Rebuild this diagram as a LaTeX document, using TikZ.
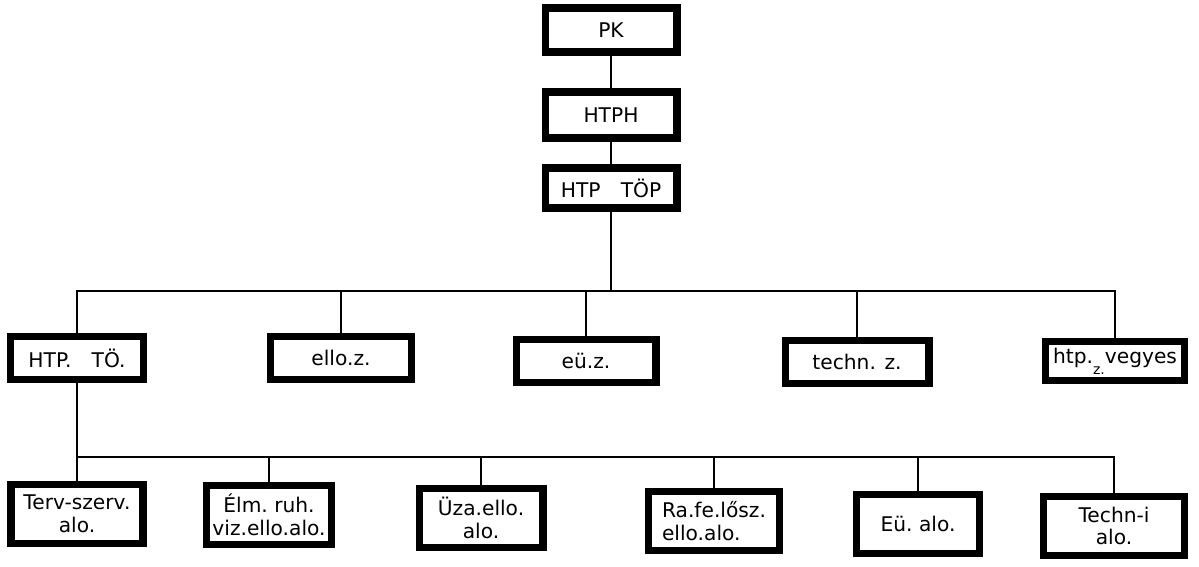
\documentclass[tikz,border=0pt]{standalone}
\usepackage{fontspec}
\setmainfont{DejaVu Sans}
\usepackage{tikz}
\usetikzlibrary{calc}
\newcommand\boxfont{\fontsize{11.5}{13}\selectfont}
\tikzset{
	orgbox/.style={
		draw, line width=4pt, inner sep=0pt, outer sep=0pt,
		align=center, font=\boxfont
	},
	topbox/.style={orgbox, minimum width=2.64cm, minimum height=0.88cm},
	unitbox/.style={orgbox, minimum width=2.78cm, minimum height=0.86cm},
	subbox/.style={orgbox, minimum width=2.6cm, minimum height=1.18cm},
	link/.style={line width=1pt}
}

\begin{document}
\begin{tikzpicture}[x=0.02cm, y=-0.02cm]
	\useasboundingbox (0,0) rectangle (1199,567);
	% command chain
	\node[topbox] (pk) at (611,30) {PK};
	\node[topbox, minimum height=0.92cm] (htph) at (611,115) {HTPH};
	\node[topbox, minimum height=0.8cm] (htptop) at (611,188) {HTP\quad TÖP};
	% first level
	\node[unitbox, minimum width=2.66cm] (htpto) at (77,358) {HTP.\quad TÖ.};
	\node[unitbox, minimum width=2.82cm] (elloz) at (341,358) {ello.z.};
	\node[unitbox, minimum width=2.8cm] (euz) at (586,361) {eü.z.};
	\node[unitbox, minimum width=2.88cm] (technz) at (857,362) {techn. z.};
	\node[unitbox, minimum height=0.78cm] (vegyes) at (1115,361)
		{htp.\raisebox{-1ex}{\footnotesize z.}vegyes};
	% second level
	\node[subbox, minimum width=2.64cm] (terv) at (77,514) {Terv-szerv.\\alo.};
	\node[subbox, minimum width=2.5cm] (elm) at (269,515) {Élm.\ ruh.\\viz.ello.alo.};
	\node[subbox, minimum width=2.48cm] (uza) at (481,518) {Üza.ello.\\alo.};
	\node[subbox, minimum width=2.62cm, align=left] (rafe) at (714,521) {Ra.fe.lősz.\\ello.alo.};
	\node[subbox, minimum width=2.46cm] (eualo) at (918,524) {Eü.\ alo.};
	\node[subbox, minimum width=2.82cm] (techni) at (1114,526) {Techn-i\\alo.};
	\coordinate (bus1) at (611,291);
	\coordinate (bus2) at (77,457);
	\draw[link] (pk) -- (htph) -- (htptop) -- (bus1);
	\foreach \n in {htpto, elloz, euz, technz, vegyes}
		\draw[link] (bus1) -| (\n);
	\draw[link] (htpto) -- (bus2);
	\foreach \n in {terv, elm, uza, rafe, eualo, techni}
		\draw[link] (bus2) -| (\n);
\end{tikzpicture}
\end{document}
